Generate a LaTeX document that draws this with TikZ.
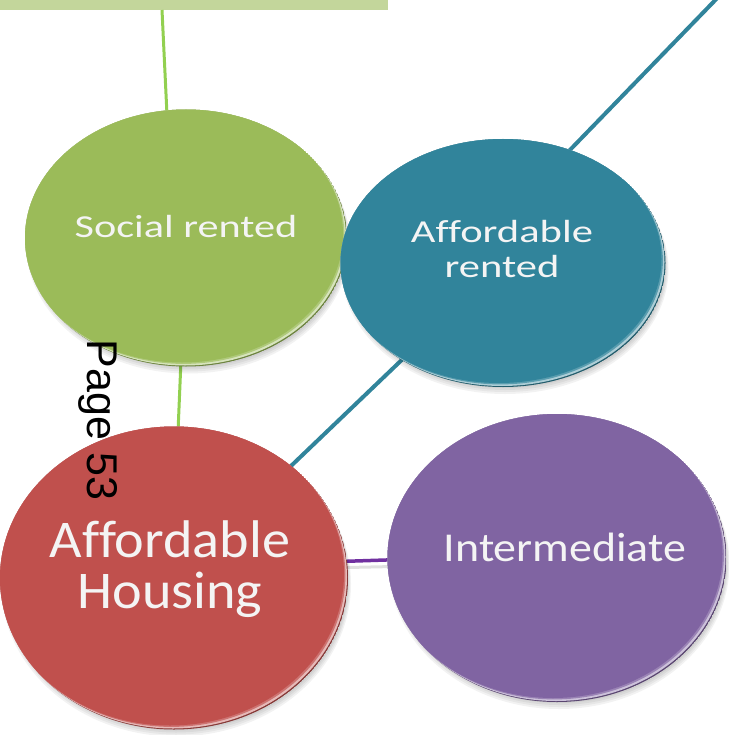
\documentclass[tikz,border=0pt]{standalone}
\usepackage{fontspec}
\usepackage{graphicx}
\setmainfont[Ligatures=NoCommon]{Carlito}
\newfontfamily\pagefont{Liberation Sans}
\usetikzlibrary{shapes.geometric, calc}

\definecolor{barGreen}{HTML}{C3D69B}
\definecolor{lineGreen}{HTML}{92D050}
\definecolor{discGreen}{HTML}{9BBB59}
\definecolor{discTeal}{HTML}{31849B}
\definecolor{discRed}{HTML}{C0504D}
\definecolor{discPurple}{HTML}{8064A2}
\definecolor{linePurple}{HTML}{7030A0}
\definecolor{labelWhite}{HTML}{F4F4F4}

\tikzset{
  disc/.style={ellipse, inner sep=0pt},
  label text/.style={text=labelWhite, inner sep=0pt, anchor=base},
  link/.style={line width=3pt},
  pagelabel/.style={font=\pagefont\fontsize{43}{46}\selectfont, text=black,
    rotate=-90, inner sep=0pt},
}

% a disc with a soft shadow and a pale bevel along its lower right rim
\newcommand\bevdisc[6]{% name, x, y, width, height, colour
  \foreach \k in {1,...,4}{
    \fill[black, opacity=0.05]
      ($(#2,#3)+(2pt,-\k pt-2pt)$) ellipse[x radius=#4/2*1pt+\k pt-3pt, y radius=#5/2*1pt+\k pt-3pt];
  }
  \begin{scope}
    \clip (#2,#3) ellipse[x radius=#4/2*1pt, y radius=#5/2*1pt];
    \fill[#6!70!black] (#2,#3) ellipse[x radius=#4/2*1pt, y radius=#5/2*1pt];
    \fill[#6!40!white] ($(#2,#3)+(-1pt,1pt)$) ellipse[x radius=#4/2*1pt, y radius=#5/2*1pt];
    \fill[#6!80!white] ($(#2,#3)+(-2.6pt,2.6pt)$) ellipse[x radius=#4/2*1pt, y radius=#5/2*1pt];
    \fill[#6] ($(#2,#3)+(-4pt,4pt)$) ellipse[x radius=#4/2*1pt, y radius=#5/2*1pt];
  \end{scope}
  \node[disc, minimum width=#4pt, minimum height=#5pt] (#1) at (#2,#3) {};
}

\begin{document}
\begin{tikzpicture}[x=1pt, y=-1pt]
  \useasboundingbox (0,0) rectangle (728,735);

  % banner strip along the top edge
  \node[fill=barGreen, minimum width=388pt, minimum height=10pt, inner sep=0pt,
        anchor=north west] (bar) at (0,0) {};

  % centres of the discs, so the connectors can be laid down first
  \path (186,238) coordinate (socialc)
        (503,263) coordinate (rentedc)
        (174,578) coordinate (housingc)
        (557,558) coordinate (interc)
        (162,10)  coordinate (barfoot)
        (568,152) coordinate (rentedtop)
        (727,-12) coordinate (offpage);

  % connectors (behind the discs)
  \draw[link, lineGreen] (barfoot) -- (167,115) coordinate (socialtop);
  \draw[link, black!12] ($(housingc)+(150,-10)$) -- ($(interc)+(-140,8)$);
  \draw[link, lineGreen] (181,360) coordinate (socialfoot) -- (178,432) coordinate (housingtop);
  \draw[link, discTeal, line width=4pt] (housingc) -- (rentedc);
  \draw[link, discTeal, line width=4pt] (rentedtop) -- (offpage);
  \draw[link, linePurple, line width=3.5pt] ($(housingc)+(150,-16)$) -- ($(interc)+(-140,1)$);

  % discs
  \bevdisc{social}{186}{238}{322}{257}{discGreen}
  \bevdisc{rented}{503}{263}{325}{248}{discTeal}
  \bevdisc{housing}{174}{578}{348}{303}{discRed}
  \bevdisc{inter}{557}{558}{339}{288}{discPurple}

  % labels
  \node[label text, font=\fontsize{32}{35}\selectfont] (sociallabel) at (186,237)
    {\scalebox{1.32}[1]{Social rented}};
  \node[label text, font=\fontsize{32}{35}\selectfont] (rentedlabel) at (502,242)
    {\scalebox{1.33}[1]{\begin{tabular}[t]{@{}c@{}}Affordable\\rented\end{tabular}}};
  \node[label text, font=\fontsize{53}{50}\selectfont] (housinglabel) at (170,557)
    {\scalebox{1.06}[1]{\begin{tabular}[t]{@{}c@{}}Affordable\\Housing\end{tabular}}};
  \node[label text, font=\fontsize{41}{44}\selectfont] (interlabel) at (565,561)
    {\scalebox{1.12}[1]{Intermediate}};

  % page number printed sideways
  \node[pagelabel, anchor=north] (pageno) at (118,420) {Page 53};
\end{tikzpicture}
\end{document}
